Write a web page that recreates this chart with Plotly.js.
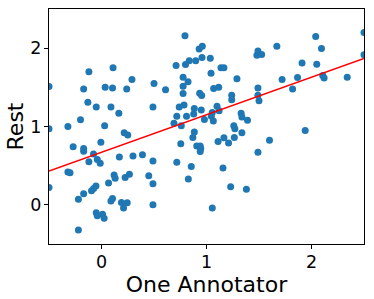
<!DOCTYPE html>
<html>
<head>
<meta charset="utf-8">
<script src="https://cdn.plot.ly/plotly-3.0.1.min.js"></script>
<style>html,body{margin:0;padding:0;background:#fff;}#chart{width:374px;height:299px;}</style>
</head>
<body>
<div id="chart"></div>
<script>
var oneAnnotator = [-0.5,-0.12,0.11,-0.17,0.035,0.105,0.24,0.29,0.50,-0.13,-0.05,0.09,0.165,0.49,-0.20,-0.32,0.03,-0.5,0.216,0.25,
  -0.27,-0.17,-0.17,-0.006,-0.076,-0.04,-0.012,-0.12,0.17,0.30,0.39,0.49,-0.32,-0.30,0.12,0.13,0.225,0.266,0.45,0.49,
  -0.5,0.067,-0.053,-0.075,-0.095,-0.17,-0.22,0.105,0.09,0.19,0.245,0.21,0.49,-0.05,-0.04,0.01,0.025,-0.22,
  0.795,0.93,0.96,0.957,1.036,0.836,0.80,0.897,0.71,1.138,1.166,1.043,0.777,1.29,0.824,0.61,0.777,1.068,1.116,0.777,
  0.935,0.954,1.24,1.24,0.74,0.786,0.884,1.10,1.12,0.95,1.055,0.717,0.81,0.878,0.98,1.046,1.065,1.33,1.337,1.39,
  1.49,1.49,1.50,1.48,1.49,0.69,0.76,1.26,1.27,1.337,0.884,0.87,0.755,0.907,0.94,0.945,0.94,1.11,1.166,1.21,
  1.265,0.717,0.855,1.157,1.49,0.827,1.23,1.38,1.055,
  2.04,2.5,1.67,2.095,1.525,1.91,2.05,2.5,1.72,1.867,1.82,2.107,2.12,2.34,1.94,1.60];
var rest = [1.51,1.70,1.75,1.48,1.50,1.49,1.48,1.60,1.55,1.31,1.25,1.25,1.17,1.25,1.085,1.00,1.01,0.97,0.92,0.89,
  0.74,0.72,0.685,0.80,0.65,0.58,0.53,0.55,0.61,0.625,0.64,0.56,0.42,0.41,0.38,0.34,0.35,0.39,0.37,0.27,
  0.22,0.28,0.24,0.21,0.18,0.14,0.07,0.08,0.05,0.03,0.025,-0.04,0.00,-0.10,-0.14,-0.12,-0.17,-0.32,
  2.16,1.99,2.025,1.88,1.87,1.84,1.79,1.84,1.78,1.75,1.75,1.68,1.63,1.61,1.57,1.47,1.515,1.485,1.50,1.42,
  1.425,1.395,1.40,1.34,1.25,1.275,1.23,1.26,1.20,1.21,1.18,1.13,1.13,1.16,1.09,1.13,1.07,1.17,1.12,1.08,
  1.49,1.40,1.33,1.91,1.965,1.04,1.01,1.01,0.97,0.92,0.93,0.86,0.78,0.75,0.75,0.72,0.68,0.81,0.855,0.79,
  0.86,0.545,0.49,0.47,0.67,0.33,0.23,0.20,-0.04,
  2.15,2.20,2.025,1.995,1.92,1.81,1.795,1.915,1.60,1.625,1.48,1.65,1.62,1.63,0.95,0.825];
var fitX = [-0.5, 2.5];
var fitY = [0.43, 1.87];
var xTicks = [0, 1, 2];
var yTicks = [0, 1, 2];

var traces = [
  {x: oneAnnotator, y: rest, type: 'scatter', mode: 'markers',
   marker: {color: '#1f77b4', size: 7, line: {width: 0}}, hoverinfo: 'skip'},
  {x: fitX, y: fitY, type: 'scatter', mode: 'lines',
   line: {color: '#ff0000', width: 1.5}, hoverinfo: 'skip'}
];
var axisCommon = {
  showgrid: false, zeroline: false, showline: true, mirror: true,
  linecolor: '#000', linewidth: 1, ticks: 'outside', ticklen: 4, tickwidth: 1,
  tickcolor: '#000', tickfont: {family: 'DejaVu Sans', size: 17.5, color: '#000'},
  tickmode: 'array'
};
var layout = {
  width: 374, height: 299, showlegend: false,
  paper_bgcolor: '#fff', plot_bgcolor: '#fff',
  margin: {l: 49, r: 10, t: 9, b: 55},
  xaxis: Object.assign({}, axisCommon, {range: [-0.5, 2.5], tickvals: xTicks, ticklabelstandoff: -2,
    title: {text: 'One Annotator', font: {family: 'DejaVu Sans', size: 22, color: '#000'}, standoff: 0}}),
  yaxis: Object.assign({}, axisCommon, {range: [-0.5, 2.5], tickvals: yTicks, ticklabelstandoff: -1,
    title: {text: 'Rest', font: {family: 'DejaVu Sans', size: 22, color: '#000'}, standoff: 0}})
};
Plotly.newPlot('chart', traces, layout, {staticPlot: true, displayModeBar: false});
</script>
</body>
</html>
